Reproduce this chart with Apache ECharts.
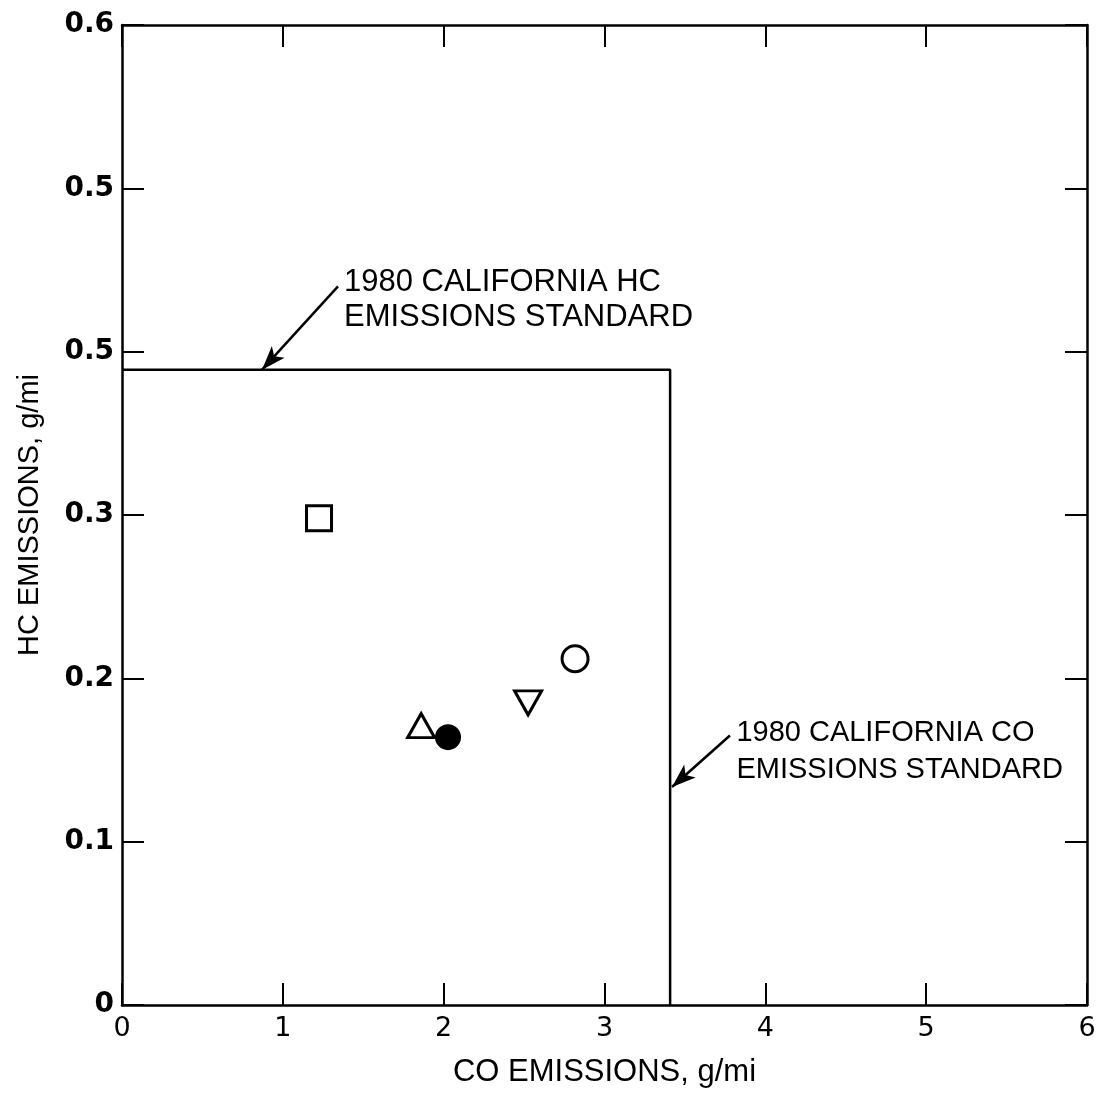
<!DOCTYPE html>
<html><head><meta charset="utf-8">
<script src="https://cdn.jsdelivr.net/npm/echarts@6/dist/echarts.min.js"></script>
<style>html,body{margin:0;padding:0;background:#fff}#c{width:1101px;height:1093px}</style>
</head><body><div id="c"></div>
<script>
// Data
const xTickLabels = ['0','1','2','3','4','5','6'];
const yTickValues = [0,0.1,0.2,0.3,0.4,0.5,0.6];
const yTickLabels = ['0','0.1','0.2','0.3','0.5','0.5','0.6'];
const squarePt = [[1.225, 0.298]];
const circlePt = [[2.817, 0.212]];
const downTriPt = [[2.525, 0.185]];
const upTriPt = [[1.86, 0.171]];
const filledPt = [[2.027, 0.164]];
const hcStandard = 0.389;
const coStandard = 3.408;
const hcArrow = [[1.343, 0.440], [0.871, 0.389]];
const coArrow = [[3.78, 0.165], [3.42, 0.1335]];
const hcNote = {pos: [1.38, 0.453], text: '1980 CALIFORNIA HC\nEMISSIONS STANDARD'};
const coNote = {pos: [3.82, 0.1776], text: '1980 CALIFORNIA CO\nEMISSIONS STANDARD'};

const FONT = 'Liberation Sans';
const TICKFONT = 'DejaVu Sans';
const chart = echarts.init(document.getElementById('c'));
const tickStyle = {show:true, inside:true, length:22, lineStyle:{color:'#000', width:2}};
const axLine = {show:true, onZero:false, lineStyle:{color:'#000', width:2.5}};
const symStyle = {color:'#fff', borderColor:'#000', borderWidth:3, opacity:1};

chart.setOption({
  animation:false,
  backgroundColor:'#fff',
  grid:{left:122, right:14, top:25, bottom:88, containLabel:false},
  xAxis:[
    {type:'value', min:0, max:6, interval:1, position:'bottom',
     axisLine:axLine, axisTick:tickStyle, splitLine:{show:false},
     axisLabel:{color:'#000', fontFamily:TICKFONT, fontSize:27, margin:10,
       formatter:v=>xTickLabels[Math.round(v)]},
     name:'CO EMISSIONS, g/mi', nameLocation:'middle', nameGap:52,
     nameTextStyle:{color:'#000', fontFamily:FONT, fontSize:31}},
    {type:'value', min:0, max:6, interval:1, position:'top',
     axisLine:axLine, axisTick:tickStyle, splitLine:{show:false}, axisLabel:{show:false}}
  ],
  yAxis:[
    {type:'value', min:0, max:0.6, interval:0.1, position:'left',
     axisLine:axLine, axisTick:tickStyle, splitLine:{show:false},
     axisLabel:{color:'#000', fontFamily:TICKFONT, fontSize:28, fontWeight:'bold', margin:8,
       formatter:v=>{const i=yTickValues.findIndex(t=>Math.abs(t-v)<1e-6); return i>=0?yTickLabels[i]:'';}},
     name:'HC EMISSIONS, g/mi', nameLocation:'middle', nameGap:78, nameRotate:90,
     nameTextStyle:{color:'#000', fontFamily:FONT, fontSize:29}},
    {type:'value', min:0, max:0.6, interval:0.1, position:'right',
     axisLine:axLine, axisTick:tickStyle, splitLine:{show:false}, axisLabel:{show:false}}
  ],
  series:[
    {type:'line', data:[[0,hcStandard],[coStandard,hcStandard],[coStandard,0]],
     symbol:'none', lineStyle:{color:'#000', width:2.5}, z:2,
     markLine:{silent:true, symbol:['none','arrow'], symbolSize:[13,24],
       lineStyle:{color:'#000', width:2.5, type:'solid'}, label:{show:false},
       data:[
         [{coord:hcArrow[0]},{coord:hcArrow[1]}],
         [{coord:coArrow[0]},{coord:coArrow[1]}]
       ]},
     markPoint:{silent:true, symbol:'circle', symbolSize:0,
       label:{show:true, position:'right', distance:0, color:'#000', fontFamily:FONT,
         align:'left', verticalAlign:'top'},
       data:[
         {coord:hcNote.pos, label:{formatter:hcNote.text, fontSize:31, lineHeight:35}},
         {coord:coNote.pos, label:{formatter:coNote.text, fontSize:29, lineHeight:37}}
       ]}
    },
    {type:'scatter', data:squarePt, symbol:'rect', symbolSize:25, itemStyle:symStyle, z:5},
    {type:'scatter', data:circlePt, symbol:'circle', symbolSize:26, itemStyle:symStyle, z:5},
    {type:'scatter', data:downTriPt, symbol:'triangle', symbolRotate:180, symbolSize:[27,24], itemStyle:symStyle, z:5},
    {type:'scatter', data:upTriPt, symbol:'triangle', symbolSize:[27,24], itemStyle:symStyle, z:5},
    {type:'scatter', data:filledPt, symbol:'circle', symbolSize:26, itemStyle:{color:'#000', opacity:1}, z:5}
  ]
});
</script></body></html>
